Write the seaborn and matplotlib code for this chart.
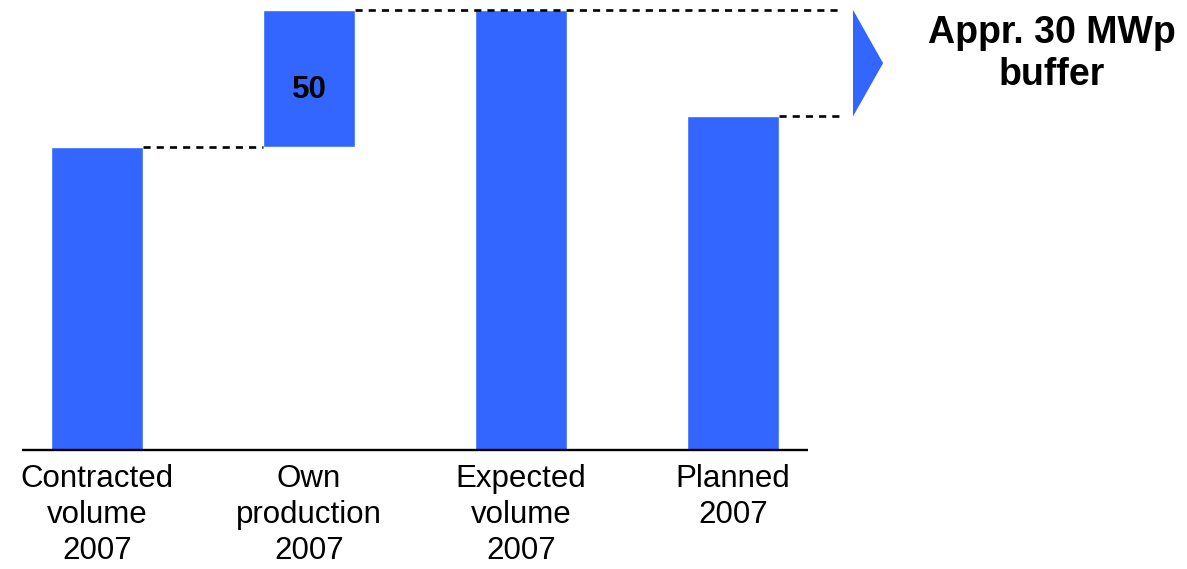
import matplotlib
matplotlib.use("Agg")
import matplotlib.pyplot as plt
from matplotlib.patches import Polygon
import seaborn as sns

# Waterfall data (MWp)
categories = ["Contracted\nvolume\n2007", "Own\nproduction\n2007",
              "Expected\nvolume\n2007", "Planned\n2007"]
contracted = 111
own_production = 50
expected = contracted + own_production
planned = 122
heights = [contracted, own_production, expected, planned]
bottoms = [0, contracted, 0, 0]
own_label = "50"
buffer_label = "Appr. 30 MWp\nbuffer"

BLUE = "#3366FF"

sns.set_theme(style="white")
plt.rcParams["font.family"] = ["Liberation Sans", "DejaVu Sans"]

fig = plt.figure(figsize=(11.87, 5.69), dpi=100)
ax = fig.add_axes([0, 119 / 569, 1, 450 / 569])

sns.barplot(x=categories, y=heights, bottom=bottoms, color=BLUE,
            saturation=1, width=0.434, errorbar=None, ax=ax, zorder=2)

half = 0.217
ax.set_xlim(-97 / 212, (1187 - 97) / 212)
ax.set_ylim(0, 450 / 2.734)

dash = dict(color="black", lw=1.9, ls=(0, (2.7, 2.3)), zorder=3)
ax.plot([0 + half, 1 - half], [contracted, contracted], **dash)
ax.plot([1 + half, 3.5], [expected, expected], **dash)
ax.plot([3 + half, 3.514], [planned, planned], **dash)

# Baseline
ax.plot([-0.354, 3.354], [0, 0], color="black", lw=1.7, zorder=4,
        clip_on=False, solid_capstyle="butt")

# Buffer arrow head
ax.add_patch(Polygon([[3.566, expected], [3.708, (expected + planned) / 2],
                      [3.566, planned]], closed=True, color=BLUE, lw=0,
                     clip_on=False))

ax.text(1, contracted + own_production * 0.41, own_label, ha="center",
        va="center", fontsize=22.5, fontweight="bold", color="black")

fig.text(1052 / 1187, 1 - 54 / 569, buffer_label, ha="center", va="center",
         multialignment="center", fontsize=27, fontweight="bold",
         color="black", linespacing=1.22)

ax.tick_params(axis="x", length=0, pad=10, labelsize=22.5, labelcolor="black")
for lbl in ax.get_xticklabels():
    lbl.set_linespacing(1.27)
ax.set_yticks([])
for s in ax.spines.values():
    s.set_visible(False)
ax.set_xlabel("")
ax.set_ylabel("")

fig.savefig("out.png", dpi=100, facecolor="white")
